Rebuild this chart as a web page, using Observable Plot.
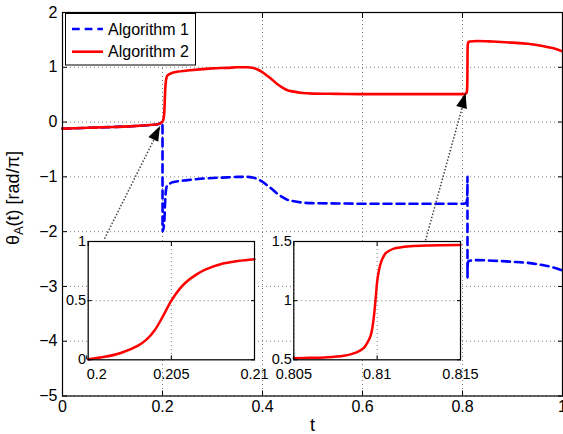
<!DOCTYPE html>
<html><head><meta charset="utf-8">
<script src="https://cdn.jsdelivr.net/npm/d3@7"></script>
<script src="https://cdn.jsdelivr.net/npm/@observablehq/plot@0.6"></script>
<style>
body{margin:0;background:#fff;}
#wrap{position:relative;width:563px;height:434px;overflow:hidden;}
#wrap svg{position:absolute;}
</style>
</head><body><div id="wrap"></div>
<script>
// ---- data ----
const seriesNames = ["Algorithm 1", "Algorithm 2"];
const seriesColors = ["#0000ff", "#ff0000"];

const alg2T = [0,0.05,0.1,0.15,0.18,0.19,0.195,0.2,0.201,0.202,0.203,0.2035,0.204,0.2045,0.205,0.2055,0.206,0.2065,0.207,0.208,0.209,0.21,0.215,0.22,0.25,0.3,0.33,0.35,0.37,0.38,0.39,0.4,0.41,0.42,0.43,0.44,0.45,0.46,0.48,0.5,0.55,0.6,0.7,0.8,0.805,0.806,0.807,0.808,0.8085,0.809,0.8092,0.8094,0.8096,0.8097,0.8098,0.8099,0.81,0.8101,0.8102,0.8103,0.8105,0.8107,0.811,0.812,0.813,0.815,0.83,0.86,0.9,0.93,0.96,0.98,1];
const alg2V = [-0.12,-0.105,-0.09,-0.07,-0.05,-0.04,-0.025,0.005,0.025,0.06,0.12,0.17,0.25,0.37,0.5,0.6,0.67,0.72,0.76,0.81,0.835,0.85,0.88,0.9,0.94,0.98,0.99,1.0,1.0,0.99,0.96,0.91,0.84,0.77,0.69,0.63,0.58,0.56,0.53,0.52,0.515,0.51,0.51,0.51,0.514,0.517,0.522,0.535,0.55,0.58,0.6,0.64,0.7,0.76,0.86,1.0,1.16,1.25,1.31,1.35,1.4,1.42,1.44,1.46,1.467,1.47,1.48,1.47,1.45,1.43,1.39,1.35,1.29];

const alg1T = [0,0.05,0.1,0.15,0.18,0.19,0.195,0.2,0.2001,0.201,0.202,0.203,0.2035,0.204,0.2045,0.205,0.2055,0.206,0.2065,0.207,0.208,0.209,0.21,0.215,0.22,0.25,0.3,0.33,0.35,0.37,0.38,0.39,0.4,0.41,0.42,0.43,0.44,0.45,0.46,0.48,0.5,0.55,0.6,0.7,0.8,0.805,0.806,0.807,0.808,0.8085,0.809,0.8092,0.8094,0.8096,0.8097,0.8098,0.8099,0.81,0.8101,0.8102,0.8103,0.8105,0.8107,0.811,0.812,0.813,0.815,0.83,0.86,0.9,0.93,0.96,0.98,1];
const alg1V = [-0.12,-0.105,-0.09,-0.07,-0.05,-0.04,-0.025,0.0,-1.995,-1.975,-1.94,-1.88,-1.83,-1.75,-1.63,-1.5,-1.4,-1.33,-1.28,-1.24,-1.19,-1.165,-1.15,-1.12,-1.1,-1.06,-1.02,-1.01,-1.0,-1.0,-1.01,-1.04,-1.09,-1.16,-1.23,-1.31,-1.37,-1.42,-1.44,-1.47,-1.48,-1.485,-1.49,-1.49,-1.49,-1.486,-1.483,-1.478,-1.465,-1.45,-1.42,-1.4,-1.36,-1.3,-1.24,-1.14,-1.0,-2.84,-2.75,-2.69,-2.65,-2.6,-2.58,-2.56,-2.54,-2.533,-2.53,-2.52,-2.53,-2.55,-2.57,-2.61,-2.65,-2.71];

const xTicks = [0, 0.2, 0.4, 0.6, 0.8, 1];
const yTicks = [-5, -4, -3, -2, -1, 0, 1, 2];
const inset1X = [0.2, 0.205, 0.21], inset1Y = [0, 0.5, 1];
const inset2X = [0.805, 0.81, 0.815], inset2Y = [0.5, 1, 1.5];

const arrowFromT = [0.084, 0.726], arrowFromV = [-2.13, -2.16];
const arrowToT = [0.196, 0.807], arrowToV = [-0.08, 0.52];

const xLabel = "t";
const yLabelMain = "θ", yLabelSub = "A", yLabelRest = "(t) [rad/π]";

// ---- build ----
const FONT = "'Liberation Sans', Arial, Helvetica, sans-serif";
const fmt = d => d < 0 ? "\u2212" + (-d) : String(d);
const alg1 = alg1T.map((t, i) => ({t, v: alg1V[i]}));
const alg2 = alg2T.map((t, i) => ({t, v: alg2V[i]}));
const arrows = arrowFromT.map((t, i) => ({x1: t, y1: arrowFromV[i], x2: arrowToT[i], y2: arrowToV[i]}));
const grid = {stroke: "#000", strokeOpacity: 0.5, strokeDasharray: "1,3", strokeWidth: 1};

const wrap = document.getElementById("wrap");

const main = Plot.plot({
  width: 563, height: 434,
  marginLeft: 62, marginRight: 1, marginTop: 12, marginBottom: 38.5,
  style: {background: "transparent", fontFamily: FONT, fontSize: "16px", color: "#000", overflow: "visible"},
  x: {domain: [0, 1]},
  y: {domain: [-5, 2]},
  marks: [
    Plot.gridX({ticks: xTicks, ...grid}),
    Plot.gridY({ticks: yTicks, ...grid}),
    Plot.line(alg1, {x: "t", y: "v", stroke: seriesColors[0], strokeWidth: 2.6, strokeDasharray: "8,5", curve: "monotone-x"}),
    Plot.line(alg2, {x: "t", y: "v", stroke: seriesColors[1], strokeWidth: 2.6, curve: "monotone-x"}),
    Plot.link(arrows, {x1: "x1", y1: "y1", x2: "x2", y2: "y2", stroke: "#444", strokeWidth: 1.5, strokeDasharray: "1.5,1.8"}),
    Plot.frame({stroke: "#000", strokeWidth: 1.2}),
    Plot.axisX({ticks: xTicks, tickSize: -5, tickPadding: 10, tickFormat: fmt, label: null}),
    Plot.axisX({ticks: xTicks, anchor: "top", tickSize: -5, tickFormat: () => "", label: null}),
    Plot.axisY({ticks: yTicks, tickSize: -5, tickPadding: 10, tickFormat: fmt, label: null}),
    Plot.axisY({ticks: yTicks, anchor: "right", tickSize: -5, tickFormat: () => "", label: null}),
    Plot.text([xLabel], {frameAnchor: "bottom", dy: 22, text: d => d, fontSize: 18, lineAnchor: "top", fill: "#000"})
  ]
});
main.style.left = "0px"; main.style.top = "0px";
wrap.appendChild(main);

const svg = d3.select(main);
const sx = main.scale("x"), sy = main.scale("y");
// arrow heads
arrowToT.forEach((t, i) => {
  const x2 = sx.apply(t), y2 = sy.apply(arrowToV[i]);
  const x1 = sx.apply(arrowFromT[i]), y1 = sy.apply(arrowFromV[i]);
  const L = Math.hypot(x2 - x1, y2 - y1), ux = (x2 - x1) / L, uy = (y2 - y1) / L;
  const hl = 15, hw = 5.5;
  const bx = x2 - ux * hl, by = y2 - uy * hl;
  const pts = [[x2, y2], [bx - uy * hw, by + ux * hw], [bx + uy * hw, by - ux * hw]];
  svg.append("polygon").attr("points", pts.map(p => p.join(",")).join(" ")).attr("fill", "#000");
});
// y label
const yl = svg.append("text")
  .attr("transform", "translate(19,198) rotate(-90)")
  .attr("text-anchor", "middle").attr("font-size", 18).attr("fill", "#000").attr("font-family", FONT);
yl.append("tspan").text(yLabelMain);
yl.append("tspan").attr("dy", 4).attr("font-size", 13).text(yLabelSub);
yl.append("tspan").attr("dy", -4).text(yLabelRest);
// legend
const lg = svg.append("g").attr("font-family", FONT).attr("font-size", 16).attr("text-anchor", "start");
lg.append("rect").attr("x", 65.5).attr("y", 13.5).attr("width", 130).attr("height", 51.5)
  .attr("fill", "#fff").attr("stroke", "#000").attr("stroke-width", 1);
seriesNames.forEach((name, i) => {
  const cy = 29 + i * 22.7;
  lg.append("line").attr("x1", 72).attr("x2", 103).attr("y1", cy).attr("y2", cy)
    .attr("stroke", seriesColors[i]).attr("stroke-width", 2.6)
    .attr("stroke-dasharray", i === 0 ? "7.7,5" : null);
  lg.append("text").attr("x", 108).attr("y", cy).attr("dy", "0.35em")
    .attr("text-anchor", "start").attr("fill", "#000").text(name);
});

function makeInset(xDom, yDom, xt, yt, pos, firstStart) {
  const data = alg2.filter(d => d.t >= xDom[0] - 1e-9 && d.t <= xDom[1] + 1e-9);
  const xLabelMarks = firstStart
    ? [Plot.axisX({ticks: xt.slice(1), tickSize: -4, tickPadding: 12.5, tickFormat: fmt, label: null}),
       Plot.axisX({ticks: xt.slice(0, 1), tickSize: -4, tickPadding: 12.5, tickFormat: fmt, label: null, textAnchor: "start", dx: -1.5})]
    : [Plot.axisX({ticks: xt, tickSize: -4, tickPadding: 12.5, tickFormat: fmt, label: null})];
  const p = Plot.plot({
    width: pos.w, height: pos.h,
    marginLeft: pos.ml, marginRight: pos.mr, marginTop: pos.mt, marginBottom: pos.mb,
    style: {background: "transparent", fontFamily: FONT, fontSize: "14.5px", color: "#000", overflow: "visible"},
    x: {domain: xDom}, y: {domain: yDom},
    marks: [
      Plot.frame({fill: "#fff", stroke: "none"}),
      Plot.gridX({ticks: xt, ...grid}),
      Plot.gridY({ticks: yt, ...grid}),
      Plot.line(data, {x: "t", y: "v", stroke: seriesColors[1], strokeWidth: 2.5, curve: "catmull-rom"}),
      Plot.frame({stroke: "#000", strokeWidth: 1.2}),
      ...xLabelMarks,
      Plot.axisX({ticks: xt, anchor: "top", tickSize: -4, tickFormat: () => "", label: null}),
      Plot.axisY({ticks: yt, tickSize: -4, tickPadding: 6, tickFormat: fmt, label: null}),
      Plot.axisY({ticks: yt, anchor: "right", tickSize: -4, tickFormat: () => "", label: null})
    ]
  });
  p.style.left = pos.left + "px"; p.style.top = pos.top + "px";
  wrap.appendChild(p);
}
makeInset([0.2, 0.21], [0, 1], inset1X, inset1Y, {left: 47, top: 231, w: 223, h: 160, ml: 40.7, mr: 16, mt: 10, mb: 31.7}, true);
makeInset([0.805, 0.815], [0.5, 1.5], inset2X, inset2Y, {left: 252, top: 231, w: 225, h: 160, ml: 41.3, mr: 17, mt: 10, mb: 31.7}, false);
</script>
</body></html>
